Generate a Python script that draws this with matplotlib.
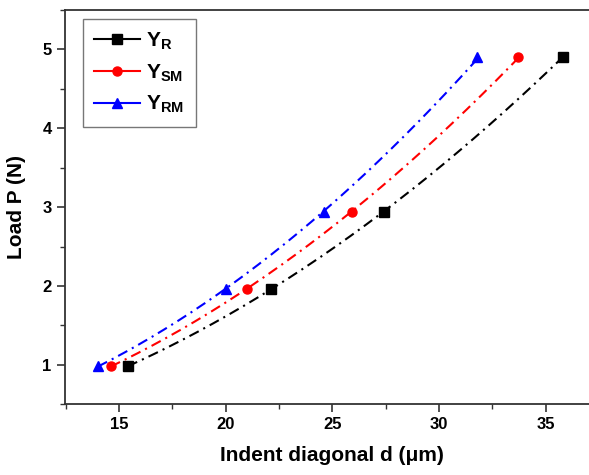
import numpy as np
import matplotlib
matplotlib.use("Agg")
import matplotlib.pyplot as plt
from matplotlib.lines import Line2D
from matplotlib.ticker import MultipleLocator

plt.rcParams["font.family"] = ["Liberation Sans", "DejaVu Sans"]
plt.rcParams["mathtext.fontset"] = "custom"
plt.rcParams["mathtext.rm"] = "Liberation Sans"
plt.rcParams["mathtext.bf"] = "Liberation Sans:bold"

# indentation load (N) and diagonal (um) for each model
load = [0.98, 1.96, 2.94, 4.9]
d_r = [15.4, 22.1, 27.4, 35.8]
d_sm = [14.6, 21.0, 25.9, 33.7]
d_rm = [14.0, 20.0, 24.6, 31.8]

series = [
    (d_r, "black", "s", r"$\mathbf{Y_{R}}$"),
    (d_sm, "red", "o", r"$\mathbf{Y_{SM}}$"),
    (d_rm, "blue", "^", r"$\mathbf{Y_{RM}}$"),
]

fig = plt.figure(figsize=(5.89, 4.75), dpi=100)
ax = fig.add_axes([0.110, 0.149, 0.907, 0.830])

handles = []
for d, color, marker, label in series:
    # Meyer's law fit P = a * d^n, drawn as the smooth dash-dot curve
    n, loga = np.polyfit(np.log(d), np.log(load), 1)
    xs = np.linspace(min(d), max(d), 200)
    ax.plot(xs, np.exp(loga) * xs ** n, color=color, linewidth=1.5,
            dashes=(5, 2.5, 1, 2.5))
    ax.plot(d, load, linestyle="none", marker=marker, color=color, markersize=6.5)
    handles.append(Line2D([], [], color=color, marker=marker, markersize=6.5,
                          linewidth=1.5, label=label))

ax.set_xlim(12.45, 37.5)
ax.set_ylim(0.5, 5.5)
ax.xaxis.set_major_locator(MultipleLocator(5))
ax.xaxis.set_minor_locator(MultipleLocator(2.5))
ax.yaxis.set_major_locator(MultipleLocator(1))
ax.yaxis.set_minor_locator(MultipleLocator(0.5))
ax.tick_params(which="major", direction="out", length=6, width=1.2,
               labelsize=12, color="#333333")
ax.tick_params(which="minor", direction="out", length=3.5, width=1.0, color="#333333")
for lab in ax.get_xticklabels() + ax.get_yticklabels():
    lab.set_fontweight("bold")
for sp in ax.spines.values():
    sp.set_linewidth(1.3)
    sp.set_color("#333333")

ax.set_xlabel("Indent diagonal d (\u03bcm)", fontsize=15, fontweight="bold", labelpad=10)
ax.set_ylabel("Load P (N)", fontsize=15, fontweight="bold", labelpad=12)

leg = ax.legend(handles=handles, loc="upper left", bbox_to_anchor=(0.034, 0.977),
                borderaxespad=0, fontsize=15, handlelength=2.2, handletextpad=0.3,
                labelspacing=0.5, borderpad=0.55, fancybox=False, framealpha=1)
leg.get_frame().set_edgecolor("#777777")
leg.get_frame().set_linewidth(1.0)

fig.savefig("out.png", dpi=100)
